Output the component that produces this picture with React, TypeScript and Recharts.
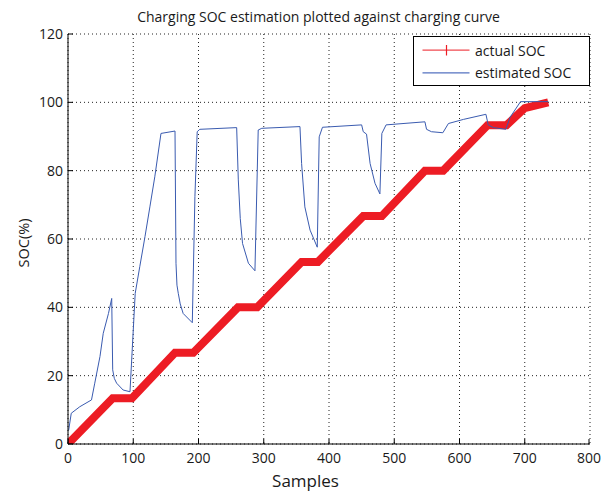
import React from 'react';
import {
  LineChart,
  Line,
  XAxis,
  YAxis,
  CartesianGrid,
} from 'recharts';

// actual SOC (thick red staircase)
const actualX = [0, 68.5, 98, 164, 192, 260.5, 290, 358, 383, 452.5, 481, 547, 575, 643, 672, 700, 736];
const actualY = [0, 13.4, 13.4, 26.7, 26.7, 40, 40, 53.3, 53.3, 66.7, 66.7, 80, 80, 93.3, 93.3, 98.3, 100];

// estimated SOC (thin blue)
const estX = [
  1, 5, 18, 36, 41, 49, 54, 62, 67, 68.5, 71, 74.5, 84.5, 95,
  103, 110, 118, 125.5, 133, 142.5, 164, 165.5, 167, 169, 172, 176.5, 190.5,
  194.5, 198, 202, 258.5, 261, 264, 267.5, 276.5, 286.5,
  291.5, 297, 355.5, 358, 363, 371, 382,
  385, 390, 450, 452.5, 457.5, 463, 470.5, 478,
  481, 487.5, 547, 549.5, 557, 574.5, 583, 606, 640.5, 644, 652, 671, 677.5, 693.5, 736,
];
const estY = [
  4, 9, 10.9, 12.9, 17.8, 25.6, 32.4, 38.2, 42.6, 21.7, 19.2, 17.8, 15.8, 15.3,
  44.1, 51.9, 60.7, 69.4, 78.2, 90.9, 91.6, 52.9, 46.5, 44.1, 41, 38.2, 35.5,
  72.4, 91.4, 92.1, 92.6, 77.3, 66, 58.7, 52.9, 50.7,
  91.9, 92.4, 92.9, 82.1, 69.4, 62.6, 57.6,
  89.9, 92.7, 93.4, 91.4, 90.7, 82.1, 76.3, 73.2,
  90.9, 93.4, 94.3, 92.1, 91.4, 91.1, 93.8, 95.0, 96.5, 93.4, 92.6, 92.1, 95.6, 100.2, 100.2,
];

const xTicks = [0, 100, 200, 300, 400, 500, 600, 700, 800];
const yTicks = [0, 20, 40, 60, 80, 100, 120];

const actualData = actualX.map((x, i) => ({ x, actual: actualY[i] }));
const estData = estX.map((x, i) => ({ x, est: estY[i] }));

const RED = '#ed1c24';
const BLUE = '#3a5bb0';
const FONT = '"Open Sans", sans-serif';

const BottomTick = (props: any) => {
  const { x, y, payload } = props;
  return (
    <g>
      <line x1={x} y1={y - 9} x2={x} y2={y - 14} stroke="#000" />
      <text x={x} y={y} dy="0.71em" textAnchor="middle" fontSize={14} fill="#1a1a1a" fontFamily={FONT}>
        {payload.value}
      </text>
    </g>
  );
};

const LeftTick = (props: any) => {
  const { x, y, payload } = props;
  return (
    <g>
      <line x1={x + 5} y1={y} x2={x + 10} y2={y} stroke="#000" />
      <text x={x} y={y} dy="0.355em" textAnchor="end" fontSize={14} fill="#1a1a1a" fontFamily={FONT}>
        {payload.value}
      </text>
    </g>
  );
};

const TopTick = (props: any) => {
  const { x, y } = props;
  return <line x1={x} y1={y} x2={x} y2={y + 5} stroke="#000" />;
};

const RightTick = (props: any) => {
  const { x, y } = props;
  return <line x1={x} y1={y} x2={x - 5} y2={y} stroke="#000" />;
};

export default function App() {
  return (
    <div style={{ position: 'absolute', left: 0, top: 0, width: 601, height: 496, background: '#fff', fontFamily: FONT, color: '#1a1a1a' }}>
      <LineChart width={601} height={496} margin={{ top: 34, right: 11, bottom: 22, left: 0 }}>
        <CartesianGrid stroke="#222" strokeDasharray="1 3" />
        <XAxis
          type="number"
          dataKey="x"
          domain={[0, 800]}
          ticks={xTicks}
          height={30}
          tickSize={0}
          tickMargin={9}
          tickLine={false}
          axisLine={{ stroke: '#000' }}
          tick={<BottomTick />}
          allowDataOverflow
        />
        <XAxis
          xAxisId="top"
          orientation="top"
          type="number"
          dataKey="x"
          domain={[0, 800]}
          ticks={xTicks}
          height={0}
          tickSize={0}
          tickLine={false}
          axisLine={{ stroke: '#000' }}
          tick={<TopTick />}
        />
        <YAxis
          type="number"
          domain={[0, 120]}
          ticks={yTicks}
          width={68}
          tickSize={0}
          tickMargin={5}
          tickLine={false}
          axisLine={{ stroke: '#000' }}
          tick={<LeftTick />}
          allowDataOverflow
        />
        <YAxis
          yAxisId="right"
          orientation="right"
          type="number"
          domain={[0, 120]}
          ticks={yTicks}
          width={0}
          tickSize={0}
          tickLine={false}
          axisLine={{ stroke: '#000' }}
          tick={<RightTick />}
        />
        <Line
          data={actualData}
          dataKey="actual"
          type="linear"
          stroke={RED}
          strokeWidth={8}
          dot={false}
          isAnimationActive={false}
        />
        <Line
          data={estData}
          dataKey="est"
          type="linear"
          stroke={BLUE}
          strokeWidth={1}
          dot={false}
          isAnimationActive={false}
        />
      </LineChart>

      <div style={{ position: 'absolute', left: 18, width: 601, top: 7, textAlign: 'center', fontSize: 14, whiteSpace: 'nowrap' }}>
        Charging SOC estimation plotted against charging curve
      </div>
      <div style={{ position: 'absolute', left: 5, width: 601, top: 469, textAlign: 'center', fontSize: 17 }}>
        Samples
      </div>
      <div
        style={{
          position: 'absolute',
          left: 23,
          top: 243,
          transform: 'translate(-50%, -50%) rotate(-90deg)',
          fontSize: 14.5,
          whiteSpace: 'nowrap',
        }}
      >
        SOC(%)
      </div>

      <div
        style={{
          position: 'absolute',
          left: 413,
          top: 36,
          width: 177,
          height: 50,
          border: '1.5px solid #000',
          background: '#fff',
          boxSizing: 'border-box',
          fontSize: 14,
        }}
      >
        <svg width={60} height={47} style={{ position: 'absolute', left: 0, top: 0 }}>
          <line x1={8.5} y1={13.2} x2={55.5} y2={13.2} stroke="#f04a50" strokeWidth={1.2} />
          <line x1={32.5} y1={8} x2={32.5} y2={18.5} stroke={RED} strokeWidth={1.2} />
          <line x1={8.5} y1={35.8} x2={55.5} y2={35.8} stroke="#5572c0" strokeWidth={1.2} />
        </svg>
        <div style={{ position: 'absolute', left: 61, top: 3.5, whiteSpace: 'nowrap' }}>actual SOC</div>
        <div style={{ position: 'absolute', left: 61, top: 26, whiteSpace: 'nowrap' }}>estimated SOC</div>
      </div>
    </div>
  );
}
